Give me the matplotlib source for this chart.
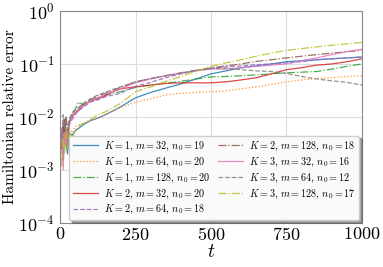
import numpy as np
import matplotlib
matplotlib.use("Agg")
import matplotlib.pyplot as plt

plt.rcParams['font.family'] = ['cmr10', 'DejaVu Serif']
plt.rcParams['mathtext.fontset'] = 'cm'
plt.rcParams['axes.unicode_minus'] = False
plt.rcParams['axes.formatter.use_mathtext'] = True

# time samples
t = [0, 5, 10, 15, 20, 25, 30, 40, 50, 60, 75, 100, 125, 150, 175, 200, 250, 300,
     350, 400, 450, 500, 550, 600, 650, 700, 750, 800, 850, 900, 950, 1000]

k1_m32 = [2e-3, 4e-3, 1.5e-3, 6e-3, 3e-3, 2e-3, 5e-3, 4.5e-3, 5.5e-3, 6e-3, 7e-3, 8.5e-3,
          9.5e-3, 0.011, 0.013, 0.0155, 0.023, 0.029, 0.035, 0.042, 0.052, 0.065, 0.074,
          0.085, 0.092, 0.1, 0.11, 0.115, 0.12, 0.125, 0.13, 0.135]
k1_m64 = [3e-3, 2e-3, 5e-3, 3.5e-3, 6e-3, 3e-3, 6e-3, 5e-3, 6.5e-3, 7e-3, 7.5e-3, 8.5e-3,
          9.5e-3, 0.011, 0.013, 0.015, 0.019, 0.022, 0.026, 0.028, 0.029, 0.030, 0.031,
          0.034, 0.037, 0.041, 0.046, 0.05, 0.053, 0.055, 0.058, 0.06]
k1_m128 = [4e-3, 3e-3, 7e-3, 4e-3, 9e-3, 5e-3, 8e-3, 0.012, 0.014, 0.019, 0.017, 0.02,
           0.023, 0.026, 0.028, 0.03, 0.036, 0.04, 0.043, 0.047, 0.052, 0.057, 0.058,
           0.06, 0.062, 0.065, 0.068, 0.07, 0.072, 0.08, 0.09, 0.1]
k2_m32 = [5e-3, 2.5e-3, 6e-3, 9e-3, 3e-3, 4e-3, 8e-3, 0.01, 0.012, 0.013, 0.016, 0.02,
          0.022, 0.025, 0.03, 0.034, 0.037, 0.04, 0.043, 0.044, 0.044, 0.044, 0.046,
          0.05, 0.055, 0.065, 0.078, 0.085, 0.095, 0.1, 0.11, 0.125]
k2_m64 = [3e-3, 5e-3, 2e-3, 7e-3, 4e-3, 3e-3, 7e-3, 9e-3, 0.011, 0.013, 0.015, 0.019,
          0.021, 0.024, 0.026, 0.028, 0.038, 0.045, 0.055, 0.065, 0.075, 0.083, 0.088,
          0.092, 0.097, 0.1, 0.105, 0.11, 0.12, 0.125, 0.13, 0.135]
k2_m128 = [6e-3, 3e-3, 8e-3, 5e-3, 1e-2, 4e-3, 8e-3, 0.011, 0.012, 0.014, 0.017, 0.021,
           0.025, 0.028, 0.032, 0.036, 0.046, 0.053, 0.06, 0.068, 0.076, 0.084, 0.092,
           0.1, 0.112, 0.12, 0.13, 0.14, 0.15, 0.16, 0.17, 0.18]
k3_m32 = [2e-3, 6e-3, 1e-3, 5e-3, 3e-3, 6e-3, 7e-3, 0.011, 0.012, 0.014, 0.016, 0.02,
          0.023, 0.027, 0.03, 0.034, 0.044, 0.052, 0.06, 0.067, 0.074, 0.08, 0.08,
          0.085, 0.09, 0.095, 0.1, 0.115, 0.13, 0.15, 0.17, 0.19]
k3_m64 = [7e-3, 4e-3, 0.011, 6e-3, 0.01, 5e-3, 9e-3, 0.012, 0.013, 0.015, 0.018, 0.022,
          0.026, 0.029, 0.033, 0.037, 0.046, 0.053, 0.06, 0.067, 0.075, 0.082, 0.083,
          0.078, 0.074, 0.072, 0.066, 0.058, 0.052, 0.048, 0.045, 0.04]
k3_m128 = [3e-3, 1.2e-3, 4e-3, 2e-3, 6e-3, 2.5e-3, 5e-3, 4e-3, 5.5e-3, 6.5e-3, 7.5e-3, 9e-3,
           0.011, 0.0125, 0.015, 0.018, 0.03, 0.037, 0.047, 0.058, 0.073, 0.09, 0.105,
           0.12, 0.14, 0.16, 0.18, 0.195, 0.21, 0.225, 0.24, 0.255]

series = [k1_m32, k1_m64, k1_m128, k2_m32, k2_m64, k2_m128, k3_m32, k3_m64, k3_m128]
labels = [r'$K=1$, $m=32$, $n_0=19$', r'$K=1$, $m=64$, $n_0=20$',
          r'$K=1$, $m=128$, $n_0=20$', r'$K=2$, $m=32$, $n_0=20$',
          r'$K=2$, $m=64$, $n_0=18$', r'$K=2$, $m=128$, $n_0=18$',
          r'$K=3$, $m=32$, $n_0=16$', r'$K=3$, $m=64$, $n_0=12$',
          r'$K=3$, $m=128$, $n_0=17$']
styles = ['-', ':', '-.', '-', '--', '-.', '-', '--', '-.']

fig = plt.figure(figsize=(3.83, 2.67), dpi=100)
ax = fig.add_axes([0.157, 0.165, 0.788, 0.794])

for i in range(len(series)):
    ax.plot(t, series[i], linestyle=styles[i], color='C%d' % i, lw=0.9,
            alpha=0.85, label=labels[i])

ax.set_yscale('log')
ax.set_xlim(0, 1000)
ax.set_ylim(1e-4, 1)
ax.set_xticks([0, 250, 500, 750, 1000])
ax.grid(True, color='#dddddd', lw=0.8)
ax.tick_params(axis='both', which='both', labelsize=13, length=0, pad=2)
ax.tick_params(axis='y', pad=4)
for s in ax.spines.values():
    s.set_color('#888888')
ax.set_xlabel(r'$t$', fontsize=14, labelpad=0)
ax.set_ylabel('Hamiltonian relative error', fontsize=11, labelpad=1)

ax.legend(ncol=2, loc='lower right', fontsize=7.3, fancybox=True, shadow=True,
          handlelength=2.4, columnspacing=0.8, labelspacing=0.25, handletextpad=0.6,
          borderaxespad=0.25, framealpha=0.95)

fig.savefig('out.png', dpi=100)
